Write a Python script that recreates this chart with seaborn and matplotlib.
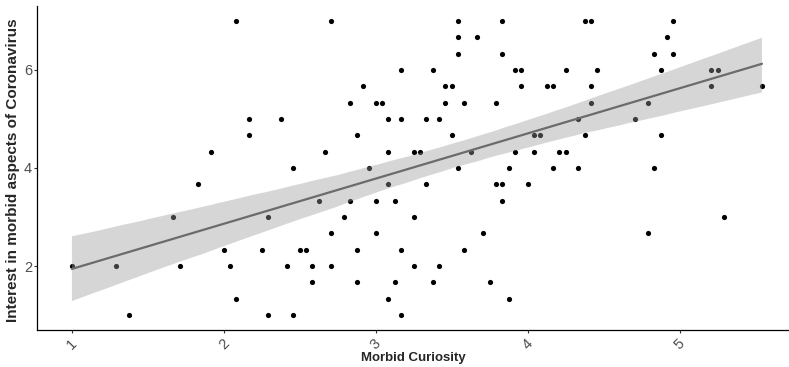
import matplotlib
matplotlib.use("Agg")
import matplotlib.pyplot as plt
import pandas as pd
import seaborn as sns

# Morbid Curiosity (x) and interest in morbid aspects of Coronavirus (y)
curiosity = [
    1.000, 1.292, 1.375, 1.667, 1.708, 1.833, 2.000, 2.042, 2.083, 2.083,
    1.917, 2.708, 3.167, 2.917, 2.833, 3.000, 3.042, 2.167, 2.375, 3.083,
    3.167, 3.333, 2.167, 2.875, 2.667, 3.083, 3.250, 3.292, 2.458, 2.958,
    3.083, 3.333, 2.625, 2.833, 3.000, 3.125, 2.292, 2.792, 3.250, 2.708,
    3.000, 2.250, 2.500, 2.542, 2.875, 3.167, 2.417, 2.583, 2.708, 3.250,
    2.583, 2.875, 3.125, 3.083, 2.292, 2.458, 3.167, 3.375, 3.375, 3.542,
    3.833, 4.375, 4.417, 3.542, 3.667, 3.542, 3.833, 3.917, 3.958, 4.250,
    4.458, 3.458, 3.500, 3.958, 4.125, 4.167, 4.417, 3.458, 3.583, 3.792,
    4.417, 3.417, 4.333, 3.500, 4.042, 4.083, 4.375, 3.625, 3.917, 4.042,
    4.208, 4.250, 3.542, 3.875, 4.167, 4.333, 3.792, 3.833, 4.000, 3.833,
    3.708, 3.583, 3.417, 3.750, 3.875, 4.958, 4.917, 4.833, 4.958, 4.875,
    5.208, 5.250, 5.208, 5.542, 4.792, 4.708, 4.875, 4.833, 5.292, 4.792,
]
interest = [
    2.00, 2.00, 1.00, 3.00, 2.00, 3.67, 2.33, 2.00, 1.33, 7.00,
    4.33, 7.00, 6.00, 5.67, 5.33, 5.33, 5.33, 5.00, 5.00, 5.00,
    5.00, 5.00, 4.67, 4.67, 4.33, 4.33, 4.33, 4.33, 4.00, 4.00,
    3.67, 3.67, 3.33, 3.33, 3.33, 3.33, 3.00, 3.00, 3.00, 2.67,
    2.67, 2.33, 2.33, 2.33, 2.33, 2.33, 2.00, 2.00, 2.00, 2.00,
    1.67, 1.67, 1.67, 1.33, 1.00, 1.00, 1.00, 1.67, 6.00, 7.00,
    7.00, 7.00, 7.00, 6.67, 6.67, 6.33, 6.33, 6.00, 6.00, 6.00,
    6.00, 5.67, 5.67, 5.67, 5.67, 5.67, 5.67, 5.33, 5.33, 5.33,
    5.33, 5.00, 5.00, 4.67, 4.67, 4.67, 4.67, 4.33, 4.33, 4.33,
    4.33, 4.33, 4.00, 4.00, 4.00, 4.00, 3.67, 3.67, 3.67, 3.33,
    2.67, 2.33, 2.00, 1.67, 1.33, 7.00, 6.67, 6.33, 6.33, 6.00,
    6.00, 6.00, 5.67, 5.67, 5.33, 5.00, 4.67, 4.00, 3.00, 2.67,
]
x_ticks = [1, 2, 3, 4, 5]
y_ticks = [2, 4, 6]

df = pd.DataFrame({"Morbid Curiosity": curiosity, "Interest": interest})

sns.set_style("ticks")
plt.rcParams["font.family"] = ["Liberation Sans", "DejaVu Sans"]

fig = plt.figure(figsize=(7.89, 3.67), dpi=100)
ax = fig.add_axes([37 / 789, 37 / 367, 752 / 789, 324 / 367])

sns.scatterplot(data=df, x="Morbid Curiosity", y="Interest", color="black",
                s=14, linewidth=0, ax=ax)
sns.regplot(data=df, x="Morbid Curiosity", y="Interest", scatter=False,
            color="#6b6b6b", line_kws={"linewidth": 1.6, "zorder": 3},
            seed=1, ax=ax)
band = ax.collections[-1]
band.set_facecolor("#999999")
band.set_alpha(0.4)
band.set_edgecolor("none")

ax.set_xlim(0.77, 5.72)
ax.set_ylim(0.7, 7.3)
ax.set_xticks(x_ticks)
ax.set_yticks(y_ticks)
ax.set_xticklabels([str(t) for t in x_ticks], rotation=45, ha="center", va="top")
ax.tick_params(axis="both", length=2.5, width=0.8, color="#333333",
               labelcolor="#4d4d4d", labelsize=10.5)
ax.tick_params(axis="y", pad=1)
ax.tick_params(axis="x", pad=2)
for side in ["left", "bottom"]:
    ax.spines[side].set_linewidth(0.9)
    ax.spines[side].set_color("black")
sns.despine(ax=ax)
ax.set_xlabel("")
ax.set_ylabel("")

fig.text(13 / 789, 1 - 170 / 367, "Interest in morbid aspects of Coronavirus",
         rotation=90, ha="center", va="center", fontsize=11, fontweight="bold")
fig.text(413 / 789, 1 - 358 / 367, "Morbid Curiosity", ha="center", va="center",
         fontsize=9.5, fontweight="bold")

fig.savefig("out.png", dpi=100)
